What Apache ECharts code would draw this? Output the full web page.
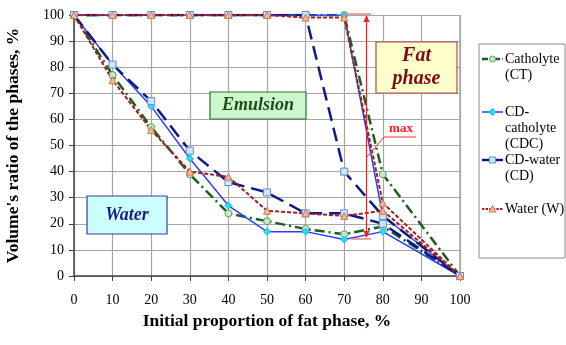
<!DOCTYPE html>
<html>
<head>
<meta charset="utf-8">
<script src="https://cdn.jsdelivr.net/npm/echarts@6/dist/echarts.min.js"></script>
<style>
  html, body { margin: 0; padding: 0; background: #fff; }
  #chart { width: 566px; height: 345px; }
</style>
</head>
<body>
<div id="chart"></div>
<script>
// x values (initial proportion of fat phase, %)
const xs = [0, 10, 20, 30, 40, 50, 60, 70, 80, 90, 100];
const xTicks = [0, 10, 20, 30, 40, 50, 60, 70, 80, 90, 100];
// lower (water) boundary, null = no point
const ctLower = [100, 77, 57, 39, 24, 21, 18, 16, 19, null, 0];
const cdcLower = [100, 81, 65, 45, 27, 17, 17, 14, 17, null, 0];
const cdLower = [100, 81, 67, 48, 36, 32, 24, 24, 20, null, 0];
const wLower = [100, 75, 56, 40, 38, 25, 24, 23, 25, null, 0];
// upper (fat phase) boundary
const ctUpper = [100, 100, 100, 100, 100, 100, 100, 100, 39, null, 0];
const cdcUpper = [100, 100, 100, 100, 100, 100, 100, 100, 23, null, 0];
const cdUpper = [100, 100, 100, 100, 100, 100, 100, 40, 23, null, 0];
const wUpper = [100, 100, 100, 100, 100, 100, 99, 99, 28, null, 0];

// lower branch left->right, then upper branch right->left
function loop(lower, upper) {
  const pts = [];
  xs.forEach((x, i) => { if (lower[i] !== null) pts.push([x, lower[i]]); });
  for (let i = xs.length - 1; i >= 0; i--) {
    if (upper[i] !== null) pts.push([xs[i], upper[i]]);
  }
  return pts;
}

const serif = "Liberation Serif";
const chart = echarts.init(document.getElementById("chart"));

// series looks
const looks = [
  { name: "Catholyte (CT)", color: "#1d5e1d", width: 2.5, dash: [10, 4, 2, 4],
    symbol: "circle", size: 7, fill: "#c4ecc4", border: "#5e9a5e", data: loop(ctLower, ctUpper) },
  { name: "CD-catholyte (CDC)", color: "#2a3dff", width: 1.5, dash: "solid",
    symbol: "diamond", size: 7, fill: "#1ee0ff", border: "#1ab8ee", data: loop(cdcLower, cdcUpper) },
  { name: "CD-water (CD)", color: "#0c1a8a", width: 2.5, dash: [14, 7],
    symbol: "rect", size: 7, fill: "#c8e8ff", border: "#6c8cc8", data: loop(cdLower, cdUpper) },
  { name: "Water (W)", color: "#a01e22", width: 2, dash: [4, 2],
    symbol: "triangle", size: 7, fill: "#f8b890", border: "#d07a50", data: loop(wLower, wUpper) }
];

const series = looks.map(s => ({
  name: s.name,
  type: "line",
  data: s.data,
  symbol: s.symbol,
  symbolSize: s.size,
  showSymbol: true,
  lineStyle: { color: s.color, width: s.width, type: s.dash },
  itemStyle: { color: s.fill, borderColor: s.border, borderWidth: 1 }
}));

// legend drawn by hand (multi-line names)
const legendRows = [
  { y: 59, text: "Catholyte\n(CT)", k: 0 },
  { y: 112, text: "CD-\ncatholyte\n(CDC)", k: 1 },
  { y: 160, text: "CD-water\n(CD)", k: 2 },
  { y: 209, text: "Water (W)", k: 3 }
];
const legendGraphics = [
  { type: "rect", shape: { x: 479, y: 44, width: 86, height: 214 },
    style: { fill: "#fff", stroke: "#8c8c8c", lineWidth: 1 } }
];
legendRows.forEach(r => {
  const s = looks[r.k];
  legendGraphics.push({
    type: "line", shape: { x1: 482, y1: r.y, x2: 503, y2: r.y },
    style: { stroke: s.color, lineWidth: s.width,
      lineDash: s.dash === "solid" ? null : s.dash.map(d => d * 0.6) }
  });
  let sym;
  if (s.symbol === "circle") sym = { type: "circle", shape: { cx: 492.5, cy: r.y, r: 3 } };
  else if (s.symbol === "diamond") sym = { type: "polygon", shape: { points: [[492.5, r.y - 3.5], [496, r.y], [492.5, r.y + 3.5], [489, r.y]] } };
  else if (s.symbol === "rect") sym = { type: "rect", shape: { x: 489.5, y: r.y - 3, width: 6, height: 6 } };
  else sym = { type: "polygon", shape: { points: [[492.5, r.y - 3.5], [496, r.y + 3], [489, r.y + 3]] } };
  sym.style = { fill: s.fill, stroke: s.border, lineWidth: 1 };
  legendGraphics.push(sym);
  legendGraphics.push({
    type: "text", x: 505, y: r.y - 8,
    style: { text: r.text, font: "14px " + serif, fill: "#000", lineHeight: 16, textVerticalAlign: "top" }
  });
});

function box(x, y, w, h, fill, stroke, text, color, size, lh) {
  return [
    { type: "rect", shape: { x: x, y: y, width: w, height: h }, z: 10,
      style: { fill: fill, stroke: stroke, lineWidth: 1.2 } },
    { type: "text", x: x + w / 2, y: y + h / 2, z: 11,
      style: { text: text, fill: color, font: "italic bold " + size + "px " + serif,
        align: "center", verticalAlign: "middle", lineHeight: lh || size } }
  ];
}

const annot = [].concat(
  box(210, 92, 96, 27, "#ccf7cc", "#2e6e2e", "Emulsion", "#1b4f1b", 18),
  box(87, 196, 80, 38, "#ccffff", "#3b3ba8", "Water", "#1b1b82", 18),
  box(376, 42, 81, 51, "#ffffcc", "#b5494a", "Fat\nphase", "#7d0a14", 20, 23),
  [
    // red double arrow marking max
    { type: "line", z: 12, shape: { x1: 344, y1: 14, x2: 371, y2: 14 }, style: { stroke: "#f28080", lineWidth: 1.5 } },
    { type: "line", z: 12, shape: { x1: 351, y1: 239, x2: 371, y2: 239 }, style: { stroke: "#f28080", lineWidth: 1.5 } },
    { type: "line", z: 12, shape: { x1: 366.5, y1: 16, x2: 366.5, y2: 237 }, style: { stroke: "#ff1a1a", lineWidth: 1.2 } },
    { type: "polygon", z: 12, shape: { points: [[366.5, 15], [363.5, 22], [369.5, 22]] }, style: { fill: "#ff1a1a" } },
    { type: "polygon", z: 12, shape: { points: [[366.5, 238], [363.5, 231], [369.5, 231]] }, style: { fill: "#ff1a1a" } },
    { type: "polyline", z: 12, shape: { points: [[367, 157], [384, 137], [416, 137]] }, style: { stroke: "#ff3030", lineWidth: 1, fill: null } },
    { type: "text", z: 12, x: 401, y: 129, style: { text: "max", fill: "#ff1a1a", font: "bold 13px " + serif, align: "center", verticalAlign: "middle" } }
  ]
);

chart.setOption({
  animation: false,
  grid: { left: 74, right: 106, top: 15, bottom: 69, outerBoundsMode: "none", containLabel: false },
  xAxis: {
    type: "value", min: 0, max: 100, interval: 10,
    axisLine: { show: true, onZero: false, lineStyle: { color: "#404040", width: 1.5 } },
    axisTick: { show: true, length: 5, lineStyle: { color: "#404040" } },
    splitLine: { show: true, lineStyle: { color: "#a6a6a6", width: 1.2 } },
    axisLabel: { color: "#000", fontFamily: serif, fontSize: 14, margin: 17,
      formatter: v => (xTicks.indexOf(v) >= 0 ? String(v) : "") },
    name: "Initial proportion of fat phase, %",
    nameLocation: "middle", nameGap: 36,
    nameTextStyle: { color: "#000", fontFamily: serif, fontSize: 17.5, fontWeight: "bold" }
  },
  yAxis: {
    type: "value", min: 0, max: 100, interval: 10,
    axisLine: { show: true, lineStyle: { color: "#404040", width: 1.5 } },
    axisTick: { show: true, length: 5, lineStyle: { color: "#404040" } },
    splitLine: { show: true, lineStyle: { color: "#a6a6a6", width: 1.2 } },
    axisLabel: { color: "#000", fontFamily: serif, fontSize: 14, margin: 10 },
    name: "Volume's ratio of the phases, %",
    nameLocation: "middle", nameGap: 52,
    nameTextStyle: { color: "#000", fontFamily: serif, fontSize: 17.5, fontWeight: "bold" }
  },
  graphic: legendGraphics.concat(annot, [
    // right border of plot area
    { type: "line", shape: { x1: 460, y1: 15, x2: 460, y2: 276 }, style: { stroke: "#8c8c8c", lineWidth: 1.2 } }
  ]),
  series: series
});
</script>
</body>
</html>
